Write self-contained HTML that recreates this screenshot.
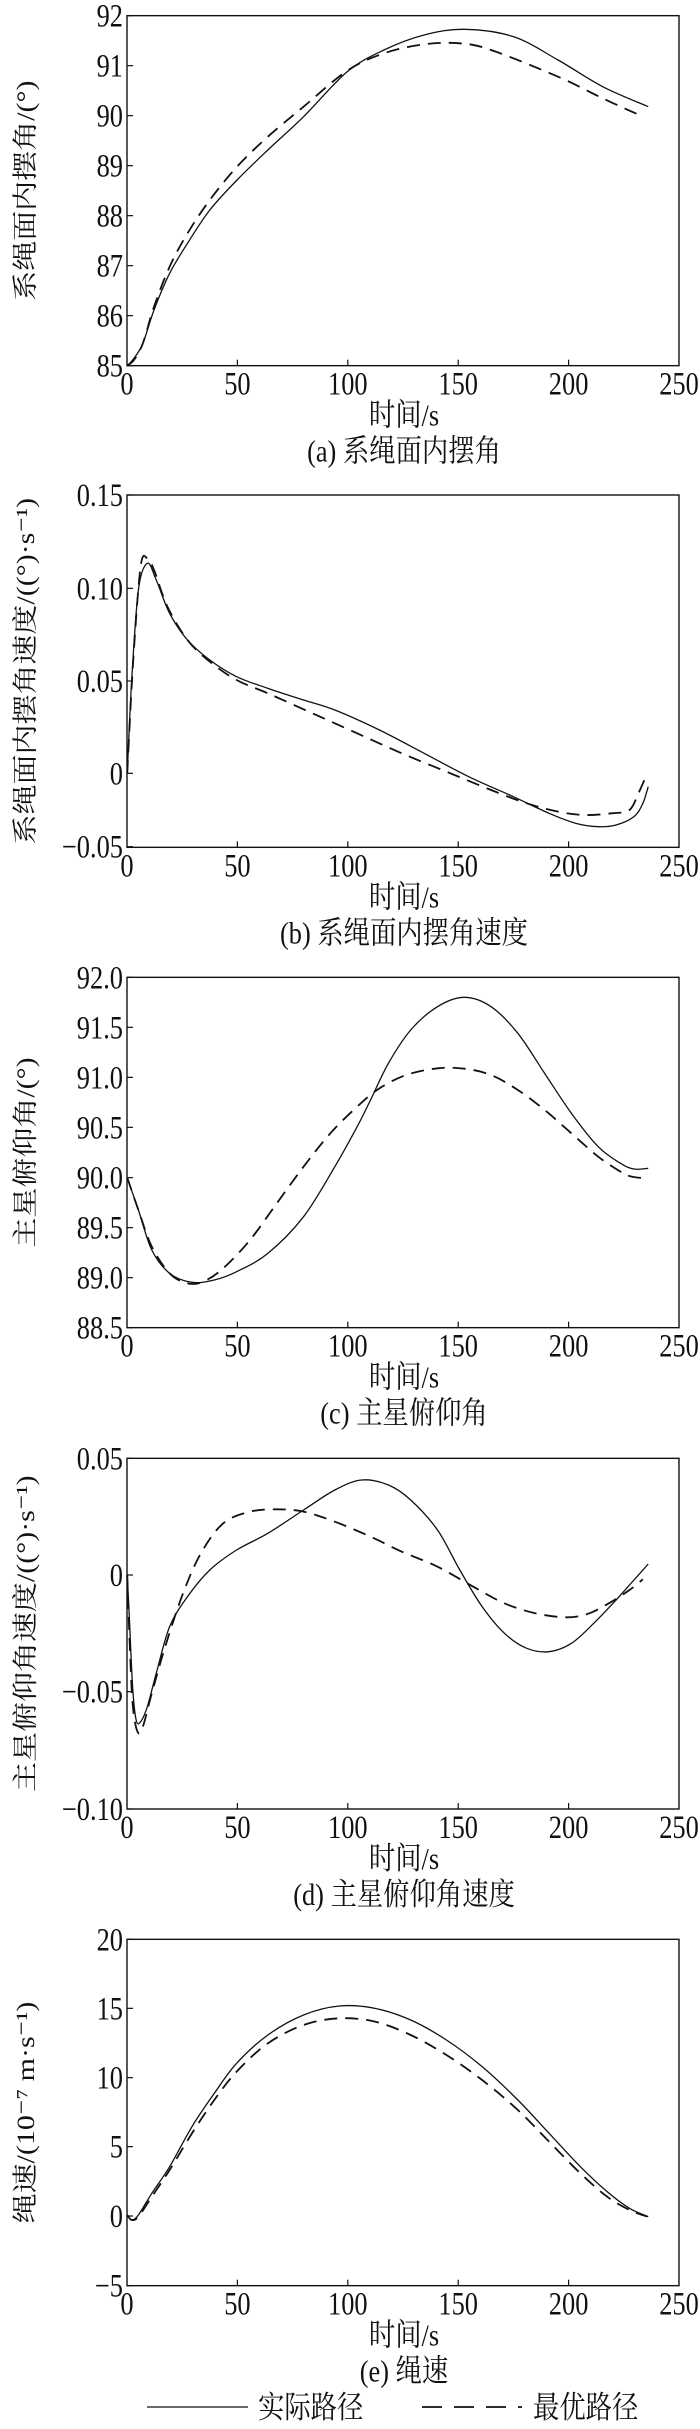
<!DOCTYPE html>
<html><head><meta charset="utf-8"><style>
html,body{margin:0;padding:0;background:#fff;}
svg{display:block;}
text{font-family:"Liberation Serif","Noto Serif CJK SC","Noto Sans CJK SC",serif;fill:#111;}
</style></head><body>
<svg id="s" width="700" height="2429" viewBox="0 0 700 2429" xmlns="http://www.w3.org/2000/svg"></svg>
<script>
const S=document.getElementById('s');const NS='http://www.w3.org/2000/svg';
function el(n,a,t){const e=document.createElementNS(NS,n);for(const k in a)e.setAttribute(k,a[k]);if(t!==undefined)e.textContent=t;S.appendChild(e);return e;}
function txt(x,y,s,anchor,str,sx){el('text',{x:0,y:0,'font-size':s,'text-anchor':anchor,transform:'translate('+x+','+y+') scale('+(sx||0.8)+',1)'},str);}
const L=127,R=679;
function path(pts,off,dash){
  const p=pts.map(q=>[q[0]/2.24,off+q[1]/3]);
  let d='M'+p[0][0].toFixed(2)+','+p[0][1].toFixed(2);
  for(let i=0;i<p.length-1;i++){
    const p0=p[Math.max(i-1,0)],p1=p[i],p2=p[i+1],p3=p[Math.min(i+2,p.length-1)];
    const c1=[p1[0]+(p2[0]-p0[0])/6,p1[1]+(p2[1]-p0[1])/6];
    const c2=[p2[0]-(p3[0]-p1[0])/6,p2[1]-(p3[1]-p1[1])/6];
    d+=' C'+c1.map(v=>v.toFixed(2)).join(',')+' '+c2.map(v=>v.toFixed(2)).join(',')+' '+p2[0].toFixed(2)+','+p2[1].toFixed(2);
  }
  const a={d:d,fill:'none',stroke:'#111','stroke-width':dash?1.8:1.3};
  if(dash)a['stroke-dasharray']='13 8';
  el('path',a);
}
function chart(o){
  const off=o.off,top=off+o.top/3,bot=off+o.bot/3;
  el('rect',{x:L,y:top,width:R-L,height:bot-top,fill:'none',stroke:'#111','stroke-width':1.4});
  for(let i=0;i<=5;i++){const x=L+i*(R-L)/5;
    if(i>0&&i<5)el('line',{x1:x,y1:bot,x2:x,y2:bot-6,stroke:'#111','stroke-width':1.2});
    txt(x,bot+29,33,'middle',String(i*50));}
  o.yt.forEach(([zy,lab])=>{const y=off+zy/3;
    el('line',{x1:L,y1:y,x2:L+6,y2:y,stroke:'#111','stroke-width':1.2});
    txt(L-4,y+11,33,'end',lab);});
  txt(404,bot+60,31,'middle','时间/s',0.85);
  txt(404,bot+96,31,'middle',o.cap,0.85);
  const cy=(top+bot)/2;
  el('text',{x:0,y:0,'font-size':30,'text-anchor':'middle',transform:'translate(34,'+cy+') rotate(-90) scale(1,0.85)'},o.yl);
  path(o.s,off,false);path(o.d,off,true);
}
chart({off:0,top:47,bot:1097,cap:'(a) 系绳面内摆角',yl:'系绳面内摆角/(°)',
 yt:[[47,'92'],[197,'91'],[347,'90'],[497,'89'],[647,'88'],[797,'87'],[947,'86'],[1097,'85']],
 s:[[285,1097],[300,1075],[320,1030],[345,930],[380,820],[420,730],[470,630],[531,540],[600,450],[680,350],[778,215],[860,150],[950,105],[1040,88],[1150,110],[1250,180],[1350,260],[1452,320]],
 d:[[285,1097],[300,1080],[320,1030],[345,920],[380,800],[420,700],[470,600],[531,500],[600,410],[680,320],[778,212],[860,160],[950,133],[1030,130],[1100,150],[1250,230],[1350,295],[1432,345]]});
chart({off:480,top:45,bot:1102,cap:'(b) 系绳面内摆角速度',yl:'系绳面内摆角速度/((°)·s⁻¹)',
 yt:[[45,'0.15'],[325,'0.10'],[603,'0.05'],[880,'0'],[1100,'−0.05']],
 s:[[285,880],[295,600],[310,330],[330,250],[350,300],[380,400],[420,480],[470,540],[530,590],[600,625],[680,660],[750,690],[850,750],[950,820],[1050,890],[1150,950],[1230,1000],[1290,1030],[1340,1040],[1380,1035],[1420,1010],[1440,970],[1452,920]],
 d:[[285,880],[298,550],[315,260],[330,235],[345,270],[375,380],[420,480],[470,545],[530,600],[600,640],[700,700],[800,760],[900,820],[1000,875],[1100,930],[1180,970],[1250,995],[1310,1005],[1370,1000],[1410,990],[1430,940],[1450,880]]});
chart({off:950,top:82,bot:1133,cap:'(c) 主星俯仰角',yl:'主星俯仰角/(°)',
 yt:[[82,'92.0'],[232,'91.5'],[382,'91.0'],[532,'90.5'],[683,'90.0'],[833,'89.5'],[983,'89.0'],[1133,'88.5']],
 s:[[285,683],[310,780],[340,900],[380,970],[430,997],[480,990],[530,965],[600,910],[680,800],[750,650],[800,530],[830,450],[870,340],[920,240],[980,170],[1040,142],[1100,170],[1160,250],[1220,370],[1280,490],[1340,590],[1390,640],[1420,657],[1452,655]],
 d:[[285,683],[310,780],[340,890],[380,970],[420,1000],[455,995],[500,955],[560,870],[620,760],[680,650],[740,550],[800,470],[850,415],[910,375],[980,355],[1040,356],[1100,375],[1160,420],[1220,480],[1280,550],[1340,620],[1390,665],[1415,680],[1450,685]]});
chart({off:1420,top:115,bot:1167,cap:'(d) 主星俯仰角速度',yl:'主星俯仰角速度/((°)·s⁻¹)',
 yt:[[115,'0.05'],[465,'0'],[815,'−0.05'],[1167,'−0.10']],
 s:[[285,465],[290,600],[297,800],[305,900],[315,905],[330,860],[350,760],[380,620],[420,530],[470,450],[530,390],[600,340],[680,270],[750,210],[810,180],[870,195],[920,240],[980,330],[1030,450],[1080,560],[1130,640],[1180,685],[1230,695],[1280,670],[1330,610],[1380,540],[1420,480],[1452,432]],
 d:[[285,465],[290,650],[297,850],[308,935],[320,920],[340,820],[370,680],[410,520],[450,400],[500,310],[560,275],[620,268],[680,275],[750,305],[830,350],[900,395],[980,440],[1060,500],[1130,550],[1200,580],[1270,592],[1320,580],[1370,545],[1410,510],[1440,478]]});
chart({off:1900,top:118,bot:1157,cap:'(e) 绳速',yl:'绳速/(10⁻⁷ m·s⁻¹)',
 yt:[[118,'20'],[325,'15'],[533,'10'],[740,'5'],[948,'0'],[1157,'−5']],
 s:[[285,945],[295,960],[310,945],[340,880],[380,800],[430,680],[480,580],[530,490],[600,405],[680,345],[760,318],[840,325],[920,360],[1000,420],[1080,500],[1160,600],[1230,700],[1300,800],[1360,875],[1410,925],[1452,950]],
 d:[[285,945],[295,960],[310,950],[340,890],[380,810],[430,700],[480,600],[530,515],[600,430],[680,375],[760,355],[840,365],[920,405],[1000,465],[1080,540],[1160,630],[1230,725],[1300,820],[1360,890],[1410,930],[1450,950]]});
el('line',{x1:147,y1:2407,x2:248,y2:2407,stroke:'#111','stroke-width':1.3});
txt(258,2418,31,'start','实际路径',0.85);
el('line',{x1:422,y1:2407,x2:522,y2:2407,stroke:'#111','stroke-width':1.8,'stroke-dasharray':'20 12'});
txt(533,2418,31,'start','最优路径',0.85);
</script>
</body></html>
